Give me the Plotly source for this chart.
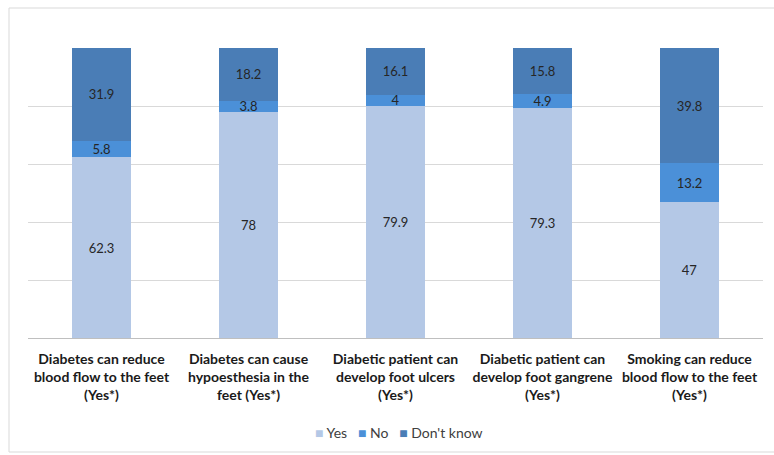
import plotly.graph_objects as go

categories = [
    "Diabetes can reduce<br>blood flow to the feet<br>(Yes*)",
    "Diabetes can cause<br>hypoesthesia in the<br>feet (Yes*)",
    "Diabetic patient can<br>develop foot ulcers<br>(Yes*)",
    "Diabetic patient can<br>develop foot gangrene<br>(Yes*)",
    "Smoking can reduce<br>blood flow to the feet<br>(Yes*)",
]
yes = [62.3, 78, 79.9, 79.3, 47]
no = [5.8, 3.8, 4, 4.9, 13.2]
dont_know = [31.9, 18.2, 16.1, 15.8, 39.8]

series = [
    ("Yes", yes, "#b4c8e6"),
    ("No", no, "#4b90d8"),
    ("Don't know", dont_know, "#4a7db6"),
]

W, H = 774, 455
ml, mr, mt, mb = 28, 11, 48, 117

fig = go.Figure()
for name, vals, color in series:
    fig.add_trace(go.Bar(
        name=name,
        x=categories,
        y=vals,
        marker=dict(color=color, line=dict(width=0)),
        text=[f"{v:g}" for v in vals],
        textposition="inside",
        insidetextanchor="middle",
        textangle=0,
        textfont=dict(family="Lato, sans-serif", size=13, color="#262626"),
        constraintext="none",
        showlegend=False,
    ))

pw = W - ml - mr
ph = H - mt - mb
# light outer frame around the chart area
fig.add_shape(
    type="rect", xref="paper", yref="paper",
    x0=(9 - ml) / pw, x1=(W + 5 - ml) / pw,
    y0=(H - mb - 452) / ph, y1=(H - mb - 8) / ph,
    line=dict(color="#d9d9d9", width=1), fillcolor="rgba(0,0,0,0)", layer="below",
)

# compact legend: coloured squares followed by series names
legend_text = "&nbsp;&nbsp;&nbsp;".join(
    f"<span style='color:{color}'>■</span> {name}" for name, _, color in series
)
fig.add_annotation(
    xref="paper", yref="paper",
    x=(399 - ml) / pw, y=(H - mb - 432) / ph,
    xanchor="center", yanchor="middle",
    text=legend_text, showarrow=False,
    font=dict(family="Lato, sans-serif", size=14, color="#404040"),
)

fig.update_layout(
    width=W, height=H,
    margin=dict(l=ml, r=mr, t=mt, b=mb),
    barmode="stack",
    bargap=0.6,
    plot_bgcolor="white",
    paper_bgcolor="white",
    uniformtext=dict(minsize=8, mode="show"),
    showlegend=False,
    xaxis=dict(
        showgrid=False, showline=True, linecolor="#bfbfbf", linewidth=1,
        ticks="", ticklabelstandoff=8,
        tickfont=dict(family="Lato, sans-serif", size=14, color="#1a1a1a", weight="bold"),
        tickangle=0,
    ),
    yaxis=dict(
        range=[0, 100], dtick=20, showgrid=True, gridcolor="#d9d9d9",
        showticklabels=False, zeroline=False, showline=False,
    ),
)

fig.write_html("out.html")
